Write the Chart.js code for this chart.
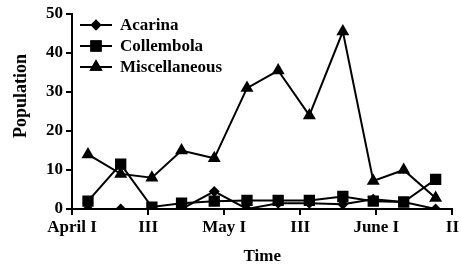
<!DOCTYPE html>
<html>
  <head>
    <meta charset="UTF-8">
    <title>Population over time</title>
    <script src="https://cdn.jsdelivr.net/npm/chart.js"></script>
    <style>
      html, body { margin: 0; padding: 0; background: #fff; }
      #wrap { width: 461px; height: 267px; }
    </style>
  </head>
  <body>
    <div id="wrap"><canvas id="popChart"></canvas></div>
    <script>
      // sampling dates, in tick units (0 = April I ... 5 = June II)
      const sampleX = [0.21, 0.64, 1.05, 1.44, 1.87, 2.30, 2.71, 3.12, 3.56, 3.96, 4.36, 4.78];
      const tickLabels = ['April I', 'III', 'May I', 'III', 'June I', 'II'];

      const acarina = [0, 0, 0, 0, 4.5, 0, 1.5, 1.5, 1.2, 2.5, 1.8, 0];
      const collembola = [2, 11.5, 0.5, 1.5, 2, 2.2, 2.2, 2.2, 3.2, 2, 1.8, 7.6];
      const misc = [14, 9, 8, 15, 13, 31, 35.5, 24, 45.5, 7.2, 10, 2.8];

      const serif = "'Liberation Serif', 'DejaVu Serif', serif";

      function pts(vals) {
        return vals.map((v, i) => ({ x: sampleX[i], y: v }));
      }

      const series = [
        { label: 'Acarina', values: acarina, style: 'rectRot', radius: 5.5 },
        { label: 'Collembola', values: collembola, style: 'rect', radius: 8 },
        { label: 'Miscellaneous', values: misc, style: 'triangle', radius: 7.5 }
      ];

      // legend inside the plot (line + marker) and the y title, which sits above centre
      const insideLegend = {
        id: 'insideLegend',
        afterDatasetsDraw(chart) {
          const ctx = chart.ctx;
          ctx.save();
          chart.data.datasets.forEach((ds, i) => {
            const y = 25 + i * 21;
            ctx.strokeStyle = '#000';
            ctx.lineWidth = 2;
            ctx.beginPath();
            ctx.moveTo(80, y);
            ctx.lineTo(112, y);
            ctx.stroke();
            ctx.fillStyle = '#000';
            Chart.helpers.drawPoint(ctx, { pointStyle: ds.pointStyle, radius: ds.pointRadius, rotation: 0, borderWidth: 0 }, 96, y);
            ctx.fill();
            ctx.font = 'bold 17px ' + serif;
            ctx.textBaseline = 'middle';
            ctx.textAlign = 'left';
            ctx.fillText(ds.label, 120, y + 1);
          });
          ctx.translate(21, 96);
          ctx.rotate(-Math.PI / 2);
          ctx.font = 'bold 18px ' + serif;
          ctx.textAlign = 'center';
          ctx.textBaseline = 'middle';
          ctx.fillStyle = '#000';
          ctx.fillText('Population', 0, 0);
          ctx.restore();
        }
      };

      new Chart(document.getElementById('popChart'), {
        type: 'line',
        data: {
          datasets: series.map(s => ({
            label: s.label,
            data: pts(s.values),
            borderColor: '#000',
            backgroundColor: '#000',
            borderWidth: 2,
            pointStyle: s.style,
            pointRadius: s.radius,
            pointBorderWidth: 0,
            tension: 0
          }))
        },
        options: {
          responsive: true,
          maintainAspectRatio: false,
          animation: false,
          layout: { padding: { top: 14, right: 4, left: 0, bottom: 0 } },
          plugins: {
            legend: { display: false },
            tooltip: { enabled: false }
          },
          scales: {
            x: {
              type: 'linear',
              min: 0,
              max: 5,
              afterFit(scale) { scale.height = 58; },
              afterBuildTicks(scale) {
                scale.ticks = tickLabels.map((t, i) => ({ value: i }));
              },
              ticks: {
                color: '#000',
                font: { family: serif, size: 17, weight: 'bold' },
                padding: 2,
                maxRotation: 0,
                autoSkip: false,
                callback: (v) => tickLabels[v]
              },
              grid: { display: true, drawOnChartArea: false, drawTicks: true, tickLength: 6, color: '#000', lineWidth: 2 },
              border: { display: true, color: '#000', width: 2 },
              title: {
                display: true,
                text: 'Time',
                color: '#000',
                font: { family: serif, size: 17, weight: 'bold' },
                padding: { top: -4, bottom: 0 }
              }
            },
            y: {
              min: 0,
              max: 50,
              afterFit(scale) { scale.width = 72; },
              ticks: {
                stepSize: 10,
                color: '#000',
                font: { family: serif, size: 17, weight: 'bold' },
                padding: 3
              },
              grid: { display: true, drawOnChartArea: false, drawTicks: true, tickLength: 6, color: '#000', lineWidth: 2 },
              border: { display: true, color: '#000', width: 2 },
              title: { display: false }
            }
          }
        },
        plugins: [insideLegend]
      });
    </script>
  </body>
</html>
